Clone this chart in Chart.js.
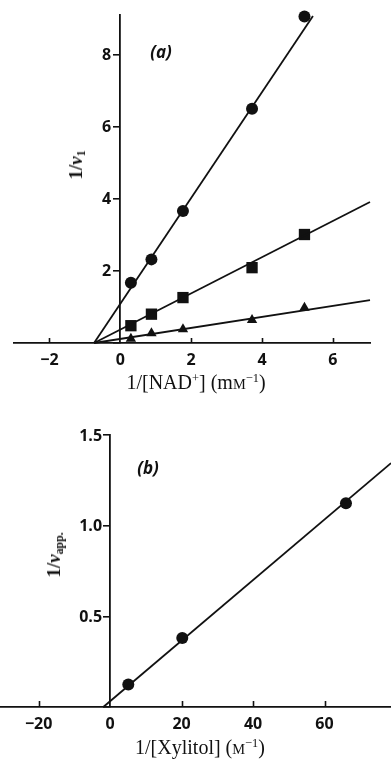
<!DOCTYPE html>
<html>
<head>
<meta charset="utf-8">
<script src="https://cdn.jsdelivr.net/npm/chart.js@4.4.1/dist/chart.umd.min.js"></script>
<style>
  body { margin: 0; background: #fff; }
  #page { position: relative; width: 391px; height: 761px; overflow: hidden; }
  canvas { position: absolute; left: 0; }
  #chartA { top: 0; }
  #chartB { top: 400px; }
  .lbl { position: absolute; color: #111; white-space: nowrap; transform: translate(-50%, -50%); }
  .serif { font-family: "Liberation Serif", "DejaVu Serif", serif; }
  .panel { font-family: "Open Sans", sans-serif; font-weight: bold; font-style: italic; font-size: 17px; }
  .xt { font-size: 20px; }
  .yt { font-size: 19px; font-weight: bold; transform: translate(-50%, -50%) rotate(-90deg); }
  .sm { font-size: 0.72em; }
  sup { font-size: 0.62em; vertical-align: 0.55em; line-height: 0; }
  sub { font-size: 0.62em; vertical-align: -0.25em; line-height: 0; }
</style>
</head>
<body>
<div id="page">
  <canvas id="chartA" width="391" height="400"></canvas>
  <canvas id="chartB" width="391" height="361"></canvas>

  <div class="lbl panel" style="left:161px; top:51px;">(a)</div>
  <div class="lbl serif yt" style="left:76px; top:165px;">1/<i>v</i><sub>1</sub></div>
  <div class="lbl serif xt" style="left:196px; top:382px;">1/[NAD<sup>+</sup>] (m<span class="sm">M</span><sup>−1</sup>)</div>

  <div class="lbl panel" style="left:148px; top:467px;">(b)</div>
  <div class="lbl serif yt" style="left:54px; top:555px;">1/<i>v</i><sub>app.</sub></div>
  <div class="lbl serif xt" style="left:200px; top:747px;">1/[Xylitol] (<span class="sm">M</span><sup>−1</sup>)</div>
</div>

<script>
// (a) 1/v against 1/[NAD+] at three xylitol levels
const nadInv = [0.30, 0.88, 1.77, 3.72, 5.20];
const circleY = [1.67, 2.32, 3.66, 6.50, 9.06];
const squareY = [0.48, 0.80, 1.26, 2.09, 3.01];
const triangleY = [0.12, 0.27, 0.38, 0.64, 0.98];
// fitted lines, end points [x, y]
const circleFit = [[-0.74, 0], [5.44, 9.07]];
const squareFit = [[-0.74, 0], [7.05, 3.91]];
const triangleFit = [[-0.74, 0], [7.05, 1.19]];
const nadTicks = [-2, 0, 2, 4, 6];
const rateTicksA = [0, 2, 4, 6, 8];

// (b) secondary plot against 1/[xylitol]
const xylInv = [5.1, 20.2, 66.0];
const vAppInv = [0.124, 0.381, 1.124];
const xylFit = [[-1.9, 0], [78.6, 1.345]];
const xylTicks = [-20, 0, 20, 40, 60];
const rateTicksB = [0, 0.5, 1.0, 1.5];

const ink = '#111';
const tickFont = { family: 'Open Sans', weight: 'bold', size: 16 };

function pts(xs, ys) {
    let out = [];
    for (let i = 0; i < xs.length; i++) {
        out.push({ x: xs[i], y: ys[i] });
    }
    return out;
}

function fitPts(seg) {
    return seg.map(p => ({ x: p[0], y: p[1] }));
}

function minus(v) {
    return String(v).replace('-', '\u2212');
}

// the y axis sits at x = 0, so its labels and the little upward x ticks are drawn here
const axisMarks = {
    id: 'axisMarks',
    afterDatasetsDraw(chart, args, opts) {
        const xs = chart.scales.x;
        const ys = chart.scales.y;
        const base = ys.getPixelForValue(0);
        const x0 = xs.getPixelForValue(0);
        const ctx = chart.ctx;
        ctx.save();
        ctx.strokeStyle = ink;
        ctx.lineWidth = 1.6;
        xs.ticks.forEach(t => {
            if (t.value === 0) return;
            const px = Math.round(xs.getPixelForValue(t.value)) + 0.5;
            ctx.beginPath();
            ctx.moveTo(px, base);
            ctx.lineTo(px, base - opts.length);
            ctx.stroke();
        });
        ctx.fillStyle = ink;
        ctx.font = Chart.helpers.toFont(tickFont).string;
        ctx.textAlign = 'right';
        ctx.textBaseline = 'middle';
        ys.ticks.forEach(t => {
            if (t.value === 0) return;
            ctx.fillText(t.label, x0 - opts.gap, ys.getPixelForValue(t.value) + 1);
        });
        ctx.restore();
    }
};

function lineSet(seg) {
    return {
        data: fitPts(seg),
        showLine: true,
        borderColor: ink,
        borderWidth: 1.8,
        pointRadius: 0,
        clip: false
    };
}

function markSet(xs, ys, style, r) {
    return {
        data: pts(xs, ys),
        showLine: false,
        pointStyle: style,
        pointRadius: r,
        backgroundColor: ink,
        borderColor: ink,
        borderWidth: 0,
        clip: false
    };
}

function noPad(s) {
    s.paddingLeft = 0;
    s.paddingRight = 0;
}

function scalesFor(xMin, xMax, xTicks, yMax, yTicks, yFmt) {
    return {
        x: {
            type: 'linear', min: xMin, max: xMax,
            afterBuildTicks: s => { s.ticks = xTicks.map(v => ({ value: v })); },
            afterFit: s => { s.height = 30; noPad(s); },
            grid: { display: true, drawOnChartArea: false, drawTicks: false },
            border: { display: true, color: ink, width: 1.8 },
            ticks: { autoSkip: false, maxRotation: 0, padding: 8, color: ink, font: tickFont, callback: v => minus(v) }
        },
        y: {
            type: 'linear', min: 0, max: yMax, position: { x: 0 },
            afterBuildTicks: s => { s.ticks = yTicks.map(v => ({ value: v })); },
            afterFit: noPad,
            grid: { display: true, drawOnChartArea: false, drawTicks: true, tickLength: 6, color: ink, lineWidth: 1.6 },
            border: { display: true, color: ink, width: 1.8 },
            ticks: { display: false, autoSkip: false, callback: v => yFmt(v) }
        }
    };
}

new Chart(document.getElementById('chartA'), {
    type: 'scatter',
    data: {
        datasets: [
            lineSet(circleFit),
            lineSet(squareFit),
            lineSet(triangleFit),
            markSet(nadInv, circleY, 'circle', 6),
            markSet(nadInv, squareY, 'rect', 8),
            markSet(nadInv, triangleY, 'triangle', 6)
        ]
    },
    options: {
        responsive: false,
        animation: false,
        layout: { autoPadding: false, padding: { left: 14, right: 21, top: 15, bottom: 27 } },
        scales: scalesFor(-3, 7.05, nadTicks, 9.1, rateTicksA, v => String(v)),
        plugins: {
            legend: { display: false },
            tooltip: { enabled: false },
            axisMarks: { length: 5, gap: 9 }
        }
    },
    plugins: [axisMarks]
});

new Chart(document.getElementById('chartB'), {
    type: 'scatter',
    data: {
        datasets: [
            lineSet(xylFit),
            markSet(xylInv, vAppInv, 'circle', 6)
        ]
    },
    options: {
        responsive: false,
        animation: false,
        layout: { autoPadding: false, padding: { left: 0, right: 0, top: 35, bottom: 24 } },
        scales: scalesFor(-30.8, 78.6, xylTicks, 1.5, rateTicksB, v => v.toFixed(1)),
        plugins: {
            legend: { display: false },
            tooltip: { enabled: false },
            axisMarks: { length: 6, gap: 8 }
        }
    },
    plugins: [axisMarks]
});
</script>
</body>
</html>
